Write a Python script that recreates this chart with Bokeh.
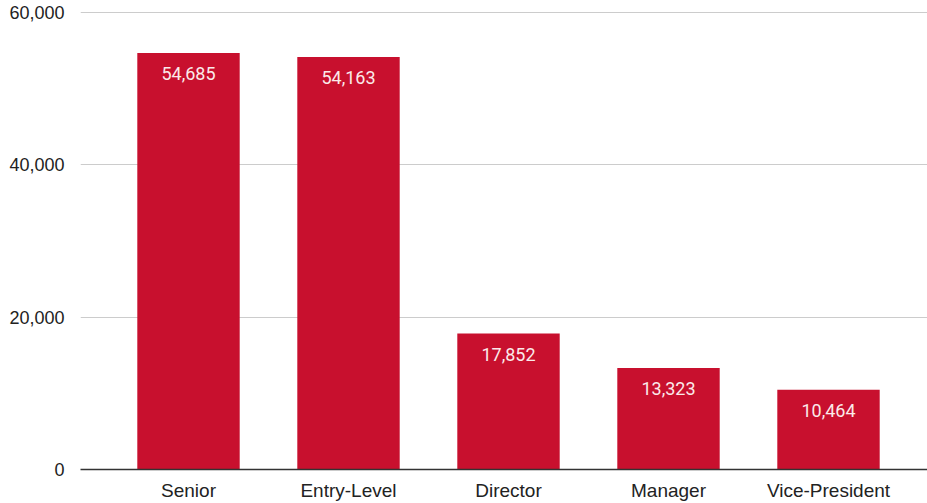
from bokeh.plotting import figure
from bokeh.models import ColumnDataSource, Range1d, FixedTicker, NumeralTickFormatter
from bokeh.core.properties import value
from bokeh.embed import file_html
from bokeh.resources import INLINE

categories = ["Senior", "Entry-Level", "Director", "Manager", "Vice-President"]
counts = [54685, 54163, 17852, 13323, 10464]
y_ticks = [0, 20000, 40000, 60000]

xs = list(range(len(categories)))
labels = [f"{v:,}" for v in counts]
src = ColumnDataSource(dict(x=xs, top=counts, label=labels))

p = figure(width=927, height=503, output_backend="svg", toolbar_location=None,
           x_range=Range1d(-0.675, 4.61875), y_range=Range1d(0, 60262))
p.min_border_left = 80
p.min_border_right = 0
p.min_border_top = 10
p.min_border_bottom = 33
p.outline_line_color = None
p.background_fill_color = "white"
p.border_fill_color = "white"

p.vbar(x="x", top="top", width=0.64, bottom=0, source=src,
       fill_color="#C8102E", line_color=None)
p.text(x="x", y="top", text="label", source=src, text_align="center",
       text_baseline="top", y_offset=14, text_color="#FBEAEA",
       text_font=value("Roboto"), text_font_size="18px")

p.xaxis.ticker = FixedTicker(ticks=xs)
p.xaxis.major_label_overrides = {i: c for i, c in enumerate(categories)}
p.xaxis.major_tick_line_color = None
p.xaxis.minor_tick_line_color = None
p.xaxis.axis_line_color = "#333333"
p.xaxis.axis_line_width = 1.5
p.xaxis.major_label_standoff = 4
p.xaxis.major_label_text_font = "Liberation Sans"
p.xaxis.major_label_text_font_size = "19px"
p.xaxis.major_label_text_color = "#222222"

p.yaxis.ticker = FixedTicker(ticks=y_ticks)
p.yaxis.formatter = NumeralTickFormatter(format="0,0")
p.yaxis.axis_line_color = None
p.yaxis.major_tick_line_color = None
p.yaxis.minor_tick_line_color = None
p.yaxis.major_label_standoff = 10
p.yaxis.major_label_text_font = "Liberation Sans"
p.yaxis.major_label_text_font_size = "18px"
p.yaxis.major_label_text_color = "#222222"

p.xgrid.grid_line_color = None
p.ygrid.ticker = FixedTicker(ticks=y_ticks)
p.ygrid.grid_line_color = "#CCCCCC"
p.ygrid.grid_line_width = 1

open("out.html", "w").write(file_html(p, INLINE))
